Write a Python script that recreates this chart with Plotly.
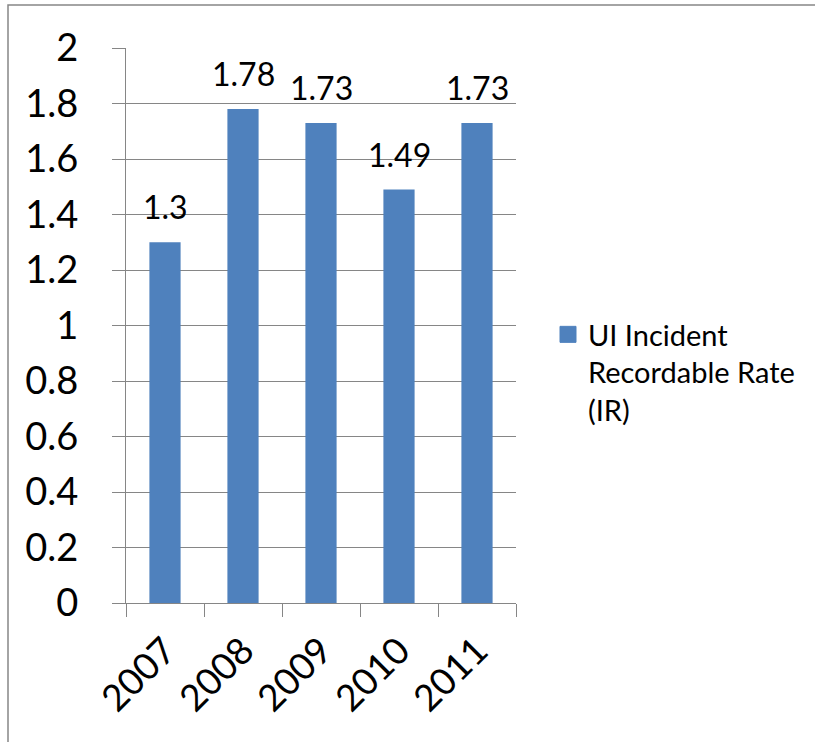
import plotly.graph_objects as go

years = ["2007", "2008", "2009", "2010", "2011"]
rates = [1.3, 1.78, 1.73, 1.49, 1.73]
rate_labels = ["1.3", "1.78", "1.73", "1.49", "1.73"]
series_name = "UI Incident<br>Recordable Rate<br>(IR)"

W, H = 815, 742
L, R, T, B = 126, 299, 48, 139
BAR = "#4F81BD"
GRID = "#868686"
FONT = "Lato"

fig = go.Figure()
fig.add_trace(go.Bar(x=years, y=rates, name=series_name, showlegend=False,
                     legendgroup="ir", marker=dict(color=BAR, line=dict(width=0))))
# legend entry for the bar series (larger square swatch)
fig.add_trace(go.Scatter(x=[None], y=[None], mode="markers", name=series_name,
                         legendgroup="ir", showlegend=True, hoverinfo="skip",
                         marker=dict(symbol="square", size=16, color=BAR,
                                     line=dict(color=BAR, width=1))))

for i, (v, lab) in enumerate(zip(rates, rate_labels)):
    fig.add_annotation(x=i, y=v, text=lab, showarrow=False, yanchor="bottom",
                       yshift=14, font=dict(family=FONT, size=32, color="black"))

pw, ph = W - L - R, H - T - B
def px(xp):
    return (xp - L) / pw
def py(yp):
    return (H - B - yp) / ph

fig.add_shape(type="rect", xref="paper", yref="paper",
              x0=px(8), x1=px(W + 10), y0=py(H + 10), y1=py(5),
              line=dict(color=GRID, width=1.5), fillcolor="rgba(0,0,0,0)", layer="above")

fig.update_layout(
    width=W, height=H,
    margin=dict(l=L, r=R, t=T, b=B, autoexpand=False),
    paper_bgcolor="white", plot_bgcolor="white",
    font=dict(family=FONT, color="black"),
    bargap=0.6,
    showlegend=True,
    legend=dict(x=px(548), xanchor="left", y=py(309), yanchor="top", valign="top",
                font=dict(family=FONT, size=29, color="black"),
                bgcolor="rgba(0,0,0,0)"),
    xaxis=dict(type="category", range=[-0.5, len(years) - 0.5], tickangle=-45,
               tickson="boundaries", ticks="outside",
               ticklen=13, tickcolor=GRID, showline=True, linecolor=GRID, linewidth=1,
               showgrid=False, ticklabelstandoff=10,
               tickfont=dict(family=FONT, size=37, color="black")),
    yaxis=dict(range=[0, 2], dtick=0.2, tick0=0, ticks="outside", ticklen=13,
               tickcolor=GRID, showline=True, linecolor=GRID, linewidth=1,
               showgrid=True, gridcolor=GRID, gridwidth=1, zeroline=False,
               ticklabelstandoff=26,
               tickfont=dict(family=FONT, size=38, color="black")),
)

fig.write_html("out.html")
